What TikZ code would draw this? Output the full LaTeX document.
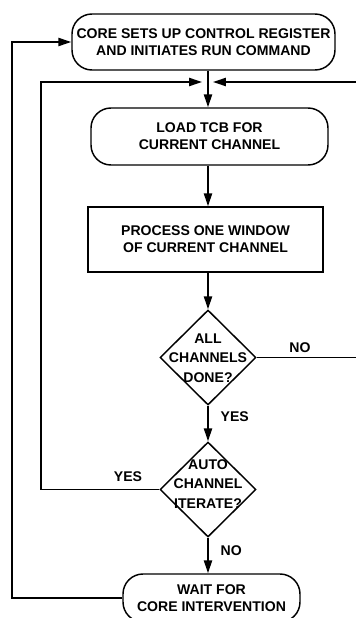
\documentclass[tikz,border=0pt]{standalone}
\usepackage{fontspec}
\setmainfont{Liberation Sans}
\usetikzlibrary{positioning, shapes.geometric, arrows.meta, calc}

\begin{document}
\begin{tikzpicture}[
  x=0.03cm, y=-0.03cm,
  line width=1.25pt,
  term/.style={draw, rounded corners=0.6cm, align=center, inner sep=0pt,
               font=\fontsize{12}{14.5}\selectfont\bfseries},
  proc/.style={draw, align=center, inner sep=0pt,
               font=\fontsize{12}{14.5}\selectfont\bfseries},
  decide/.style={draw, diamond, inner sep=0pt,
                 minimum width=2.88cm, minimum height=2.85cm},
  dtext/.style={align=center, font=\fontsize{12}{16.5}\selectfont\bfseries},
  lbl/.style={font=\fontsize{12}{14}\selectfont\bfseries, inner sep=0pt},
  arrow/.style={-{Triangle[length=11pt,width=7pt]}}
]
  \useasboundingbox (0,0) rectangle (355,618);

  \node[term, minimum width=7.89cm, minimum height=1.68cm] (setup) at (203.5,42)
    {CORE SETS UP CONTROL REGISTER\\AND INITIATES RUN COMMAND};
  \node[term, minimum width=7.11cm, minimum height=1.71cm] (load) at (209.5,136.5)
    {LOAD TCB FOR\\CURRENT CHANNEL};
  \node[proc, minimum width=7.05cm, minimum height=1.95cm] (window) at (205.5,239.5)
    {PROCESS ONE WINDOW\\OF CURRENT CHANNEL};
  \node[decide] (done) at (208,357.5) {};
  \node[dtext] (donetxt) at (208,358) {ALL\\CHANNELS\\DONE?};
  \node[decide] (iter) at (208,489.5) {};
  \node[dtext] (itertxt) at (208,484) {AUTO\\CHANNEL\\ITERATE?};
  \node[term, minimum width=5.31cm, minimum height=1.44cm] (wait) at (211.5,598)
    {WAIT FOR\\CORE INTERVENTION};

  \coordinate (merge) at (208,82);
  \coordinate (inner) at (41,82);
  \coordinate (outer) at (12,42);
  \coordinate (edge)  at (358,82);

  \draw[arrow] (setup.south -| merge) -- (load.north -| merge);
  \draw[arrow] (load.south -| merge) -- (window.north -| merge);
  \draw[arrow] (window.south -| merge) -- (done.north);
  \draw[arrow] (done.south) -- node[lbl, right=0.36cm, pos=0.3] (yes1) {YES} (iter.north);
  \draw[arrow] (iter.south) -- node[lbl, right=0.36cm, pos=0.35] (no2) {NO} (wait.north -| iter);
  \draw[arrow] (done.east) -| (edge) -- ([xshift=0.15cm]merge);
  \node[lbl] (no1) at (300,348) {NO};
  \draw[arrow] (iter.west) -| (inner) -- ([xshift=-0.18cm]merge);
  \node[lbl] (yes2) at (128,477) {YES};
  \draw[arrow] (wait.west) -| (outer) -- (setup.west);
\end{tikzpicture}
\end{document}
